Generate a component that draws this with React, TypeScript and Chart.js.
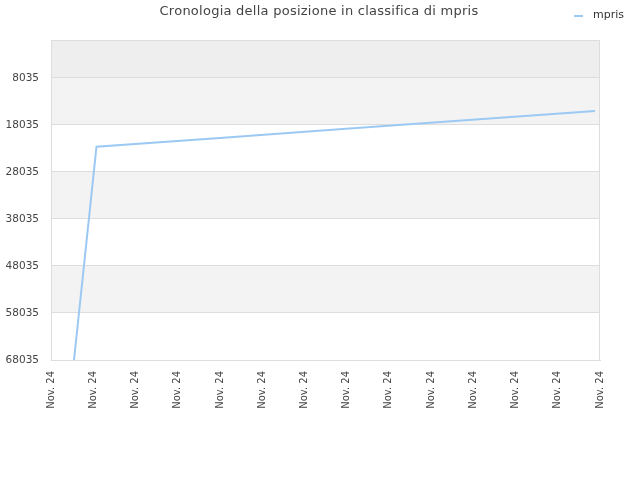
import { useEffect, useRef } from "react";
import Chart from "chart.js/auto";
import { type ChartConfiguration } from "chart.js";

const chartTitle = "Cronologia della posizione in classifica di mpris";
const seriesName = "mpris";

// x labels (one per tick) and the rank series, x in tick units
const tickLabels = [
    "Nov. 24", "Nov. 24", "Nov. 24", "Nov. 24", "Nov. 24", "Nov. 24", "Nov. 24",
    "Nov. 24", "Nov. 24", "Nov. 24", "Nov. 24", "Nov. 24", "Nov. 24", "Nov. 24",
];
const pointPositions = [0.545, 1.077, 4.0, 6.985, 12.88];
const ranks = [68035, 22700, 20850, 18850, 15100];
const rankTicks = [8035, 18035, 28035, 38035, 48035, 58035, 68035];

const lineColor = "#9cc9f3";

export default function App() {
    const chartRef = useRef<HTMLCanvasElement>(null);

    useEffect(() => {
        if (!chartRef.current) return;

        // alternating bands + plot frame + title + legend
        const decor = {
            id: "decor",
            beforeDraw(chart: any) {
                const { ctx, chartArea } = chart;
                const y = chart.scales.y;
                const edges = [0, ...rankTicks];
                ctx.save();
                for (let i = 0; i < edges.length - 1; i++) {
                    const top = y.getPixelForValue(edges[i]);
                    const bottom = y.getPixelForValue(edges[i + 1]);
                    ctx.fillStyle = i === 0 ? "#eeeeee" : i % 2 === 1 ? "#f3f3f3" : "#ffffff";
                    ctx.fillRect(chartArea.left, top, chartArea.right - chartArea.left, bottom - top);
                }
                ctx.restore();
            },
            beforeDatasetsDraw(chart: any) {
                const { ctx, chartArea } = chart;
                ctx.save();
                ctx.strokeStyle = "#dddddd";
                ctx.lineWidth = 1;
                ctx.strokeRect(chartArea.left + 0.5, chartArea.top + 0.5,
                    chartArea.right - chartArea.left - 1, chartArea.bottom - chartArea.top);
                ctx.restore();
            },
            afterDraw(chart: any) {
                const { ctx } = chart;
                ctx.save();
                ctx.fillStyle = "#444444";
                ctx.font = "13px 'DejaVu Sans'";
                (ctx as any).letterSpacing = "0.25px";
                ctx.textAlign = "center";
                ctx.textBaseline = "middle";
                ctx.fillText(chartTitle, 319, 12);
                (ctx as any).letterSpacing = "0px";

                ctx.fillStyle = lineColor;
                ctx.fillRect(574, 15, 9, 2);
                ctx.fillStyle = "#333333";
                ctx.font = "11px 'DejaVu Sans'";
                ctx.textAlign = "left";
                ctx.fillText(seriesName, 593, 15);
                ctx.restore();
            },
        };

        const config = {
            type: "line",
            data: {
                datasets: [{
                    label: seriesName,
                    data: pointPositions.map((x, i) => ({ x, y: ranks[i] })),
                    borderColor: lineColor,
                    backgroundColor: lineColor,
                    borderWidth: 2,
                    pointRadius: 0,
                    tension: 0,
                    fill: false,
                }]
            },
            options: {
                responsive: false,
                animation: false,
                layout: { padding: { top: 40, right: 40, left: 0, bottom: 0 } },
                plugins: {
                    legend: { display: false },
                    title: { display: false },
                    tooltip: { enabled: false },
                },
                scales: {
                    x: {
                        type: "linear",
                        min: 0,
                        max: tickLabels.length - 1,
                        afterBuildTicks: (scale: any) => {
                            scale.ticks = tickLabels.map((_, i) => ({ value: i }));
                        },
                        afterFit: (scale: any) => { scale.height = 120; },
                        ticks: {
                            autoSkip: false,
                            minRotation: 90,
                            maxRotation: 90,
                            padding: 11,
                            color: "#444444",
                            font: { family: "'DejaVu Sans'", size: 10 },
                            callback: (_v: any, i: number) => tickLabels[i],
                        },
                        grid: { display: false, drawTicks: false },
                        border: { display: true, color: "#dddddd" },
                    },
                    y: {
                        type: "linear",
                        reverse: true,
                        min: 0,
                        max: 68035,
                        afterBuildTicks: (scale: any) => {
                            scale.ticks = rankTicks.map((v) => ({ value: v }));
                        },
                        afterFit: (scale: any) => { scale.width = 51; },
                        ticks: {
                            padding: 12,
                            color: "#444444",
                            font: { family: "'DejaVu Sans'", size: 10.5 },
                            callback: (v: any) => String(v),
                        },
                        grid: { color: "#dddddd", drawTicks: false },
                        border: { display: true, color: "#dddddd" },
                    },
                },
            },
            plugins: [decor],
        };

        const chart = new Chart(chartRef.current, config as unknown as ChartConfiguration);
        return () => {
            chart.destroy();
        };
    }, []);

    return (
        <div style={{ position: "absolute", left: 0, top: 0, width: 640, height: 480, background: "#fff" }}>
            <canvas ref={chartRef} width={640} height={480} style={{ width: 640, height: 480 }}></canvas>
        </div>
    );
}
